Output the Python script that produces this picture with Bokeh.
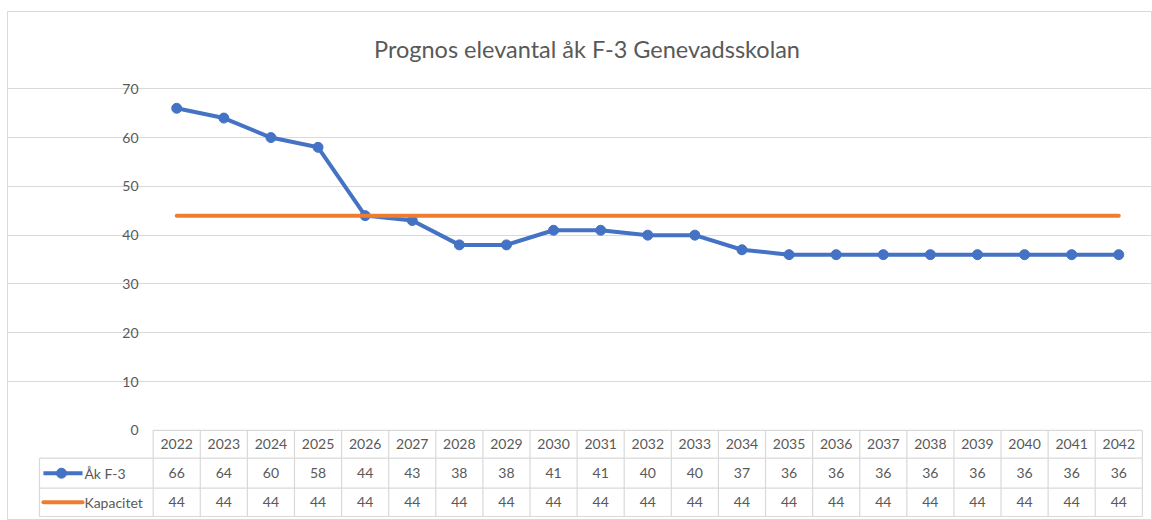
from bokeh.plotting import figure
from bokeh.models import ColumnDataSource, Range1d, FixedTicker, Grid
from bokeh.core.properties import value
from bokeh.embed import file_html
from bokeh.resources import INLINE

# ---- data ----
title_text = "Prognos elevantal åk F-3 Genevadsskolan"
years = ["2022", "2023", "2024", "2025", "2026", "2027", "2028", "2029", "2030", "2031", "2032",
         "2033", "2034", "2035", "2036", "2037", "2038", "2039", "2040", "2041", "2042"]
ak_f3 = [66, 64, 60, 58, 44, 43, 38, 38, 41, 41, 40, 40, 37, 36, 36, 36, 36, 36, 36, 36, 36]
kapacitet = [44, 44, 44, 44, 44, 44, 44, 44, 44, 44, 44, 44, 44, 44, 44, 44, 44, 44, 44, 44, 44]
series_names = ["Åk F-3", "Kapacitet"]
y_ticks = [0, 10, 20, 30, 40, 50, 60, 70]
y_tick_labels = ["0", "10", "20", "30", "40", "50", "60", "70"]

# ---- styling / layout ----
BLUE = "#4472C4"
ORANGE = "#ED7D31"
TEXT = "#595959"
GRID = "#d9d9d9"
FONT = value("Lato")

n = len(years)
xs = list(range(n))
x_left, x_right = -0.5, n - 0.5
legend_left = -2.914
row_edges = [0, -5.72, -11.87, -17.67]
row_mid = [(row_edges[i] + row_edges[i + 1]) / 2 for i in range(3)]

p = figure(width=1152, height=520, output_backend="svg", toolbar_location=None,
           x_axis_type=None, y_axis_type=None,
           x_range=Range1d(-3.593, 20.716), y_range=Range1d(-18.49, 85.84),
           min_border_left=7, min_border_right=0, min_border_top=11, min_border_bottom=0)
p.outline_line_color = GRID
p.outline_line_width = 1
p.background_fill_color = "white"
p.border_fill_color = "white"

grid = Grid(dimension=1, ticker=FixedTicker(ticks=y_ticks[1:]), bounds=(x_left, x_right),
            grid_line_color=GRID, grid_line_width=1)
p.add_layout(grid)

# y tick labels
p.text(x=[-0.81] * len(y_ticks), y=y_ticks, text=y_tick_labels, text_align="right",
       text_baseline="middle", text_font=FONT, text_font_size="14px", text_color=TEXT)

# title
p.text(x=[(x_left + x_right) / 2 - 1.29], y=[78.2], text=[title_text], text_align="center",
       text_baseline="middle", text_font=FONT, text_font_size="23.5px", text_color=TEXT)

# table borders
hx0 = [x_left] + [legend_left] * 3
hx1 = [x_right] * 4
p.segment(x0=hx0, y0=row_edges, x1=hx1, y1=row_edges, line_color=GRID, line_width=1.2)
vx = [x_left + k for k in range(n + 1)]
p.segment(x0=vx, y0=[row_edges[0]] * len(vx), x1=vx, y1=[row_edges[3]] * len(vx),
          line_color=GRID, line_width=1.2)
p.segment(x0=[legend_left], y0=[row_edges[1]], x1=[legend_left], y1=[row_edges[3]],
          line_color=GRID, line_width=1.2)

# series
src = ColumnDataSource(dict(x=xs, ak=ak_f3, kap=kapacitet, year=years,
                            ak_t=[str(v) for v in ak_f3], kap_t=[str(v) for v in kapacitet]))
p.line("x", "ak", source=src, line_color=BLUE, line_width=4, line_join="round")
p.scatter("x", "ak", source=src, size=10, fill_color=BLUE, line_color=BLUE)
p.line("x", "kap", source=src, line_color=ORANGE, line_width=4, line_cap="round")

# table text
for col, ymid in (("year", row_mid[0]), ("ak_t", row_mid[1]), ("kap_t", row_mid[2])):
    p.text("x", value(ymid), text=col, source=src, text_align="center", text_baseline="middle",
           text_font=FONT, text_font_size="14px", text_color=TEXT)

# legend keys in table
p.line(x=[-2.83, -2.0], y=[row_mid[1]] * 2, line_color=BLUE, line_width=4)
p.scatter(x=[-2.447], y=[row_mid[1]], size=10, fill_color=BLUE, line_color=BLUE)
p.line(x=[-2.83, -2.0], y=[row_mid[2]] * 2, line_color=ORANGE, line_width=4, line_cap="round")
p.text(x=[-1.96, -1.96], y=[row_mid[1], row_mid[2]], text=series_names, text_align="left",
       text_baseline="middle", text_font=FONT, text_font_size="14px", text_color=TEXT)

open("out.html", "w").write(file_html(p, INLINE))
